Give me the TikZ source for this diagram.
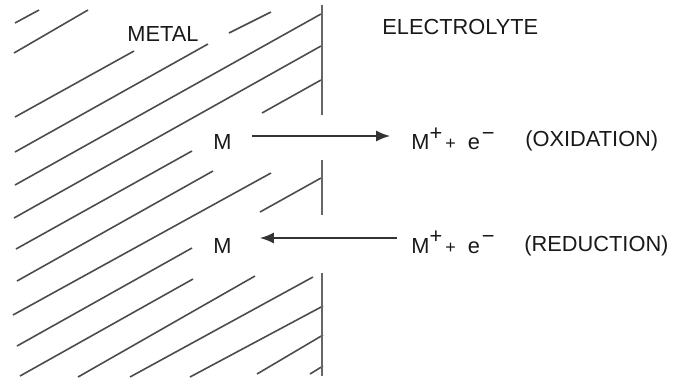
\documentclass[tikz,border=0pt]{standalone}
\usepackage{fontspec}
\setmainfont{Liberation Sans}
\usepackage{tikz}
\usetikzlibrary{arrows.meta,positioning}

% M+ + e-
\newcommand{\ionpar}{M\raisebox{0.42em}{+}\hspace{1.5pt}{\small +}\hspace{6pt}e\raisebox{0.42em}{\hspace{1pt}−}}

\begin{document}
\begin{tikzpicture}[x=0.5pt, y=-0.5pt]

    % Estilos
    \tikzstyle{rotulo}=[inner sep=0pt, text=black!90, font=\fontsize{10.9}{12}\selectfont]
    \tikzstyle{rayado}=[draw=black!70, line width=0.8pt]
    \tikzstyle{pared}=[draw=black!60, line width=0.8pt]
    \tikzstyle{flecha}=[draw=black!80, line width=0.7pt, -{Latex[length=7pt,width=5.5pt]}]

    \useasboundingbox (0,0) rectangle (675,382);

    % Rayado del metal
    \foreach \xa/\ya/\xb/\yb in {15/23/39/10, 14/53/88/10, 15/117/134/51,
        15/152/208/44, 229/33/271/12, 15/185/321/14, 14/218/321/46,
        16/249/192/151, 262/113/321/80, 17/281/213/171, 13/315/271/173,
        17/346/192/248, 260/212/321/178, 20/376/193/279, 78/377/255/276,
        130/377/313/277, 190/377/323/306, 257/374/323/335, 310/374/323/366}
        \draw[rayado] (\xa,\ya) -- (\xb,\yb);

    % Interfase metal / electrolito
    \draw[pared] (322,5) -- (322,115);
    \draw[pared] (322,160) -- (322,215);
    \draw[pared] (322,273) -- (322,376);

    % Rotulos
    \node[rotulo, anchor=base west] (metal) at (127,41) {METAL};
    \node[rotulo, anchor=base west] (elec) at (382,34) {ELECTROLYTE};

    \node[rotulo, anchor=base west] (Msup) at (213,149.5) {M};
    \node[rotulo, anchor=base west] (Psup) at (411,149.5) {\ionpar};
    \node[rotulo, anchor=base west] (oxi) at (525,146) {(OXIDATION)};

    \node[rotulo, anchor=base west] (Minf) at (213,253) {M};
    \node[rotulo, anchor=base west] (Pinf) at (411,253) {\ionpar};
    \node[rotulo, anchor=base west] (red) at (524,251) {(REDUCTION)};

    % Reacciones
    \draw[flecha, shorten <=10pt, shorten >=10.5pt]
        ([yshift=6.75pt]Msup.base east) -- ([yshift=6.75pt]Psup.base west);
    \draw[flecha, shorten <=7pt, shorten >=14pt]
        ([yshift=7.5pt]Pinf.base west) -- ([yshift=7.5pt]Minf.base east);

\end{tikzpicture}
\end{document}
